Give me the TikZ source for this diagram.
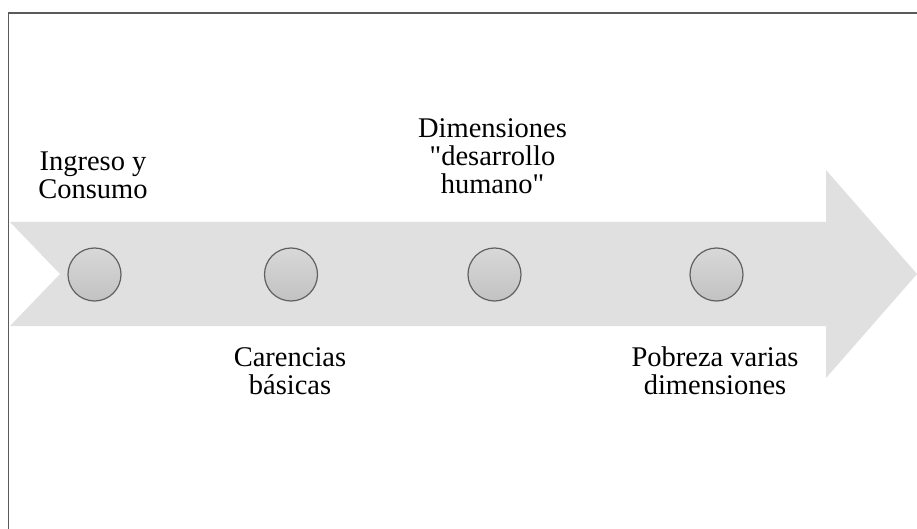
\documentclass[tikz,border=0pt]{standalone}
\usepackage{fontspec}
\setmainfont{Liberation Serif}[Ligatures=TeXOff]
\definecolor{framegray}{HTML}{5A5A5A}
\definecolor{arrowgray}{HTML}{E0E0E0}
\definecolor{dotedge}{HTML}{606060}
\definecolor{dottop}{HTML}{D8D8D8}
\definecolor{dotbottom}{HTML}{C2C2C2}
\tikzset{
  milestone/.style={circle, minimum size=53pt, inner sep=0pt, draw=dotedge,
    line width=1.2pt, top color=dottop, bottom color=dotbottom},
  stagelabel/.style={align=center, inner sep=0pt, anchor=base,
    font=\fontsize{28.5}{28}\selectfont, text=black}
}
\begin{document}
\begin{tikzpicture}[x=1pt, y=-1pt]
  \useasboundingbox (0,0) rectangle (917,529);
  % frame (only top and left edges fall inside the page)
  \draw[framegray, line width=1.5pt] (8.5,529) -- (8.5,13) -- (917,13);
  % timeline arrow
  \fill[arrowgray] (10,222) -- (826,222) -- (826,170) -- (917,274)
    -- (826,378) -- (826,326) -- (10,326) -- (60,274) -- cycle;
  % milestones
  \node[milestone] (c1) at (94.5,274.5) {};
  \node[milestone] (c2) at (291,274.5) {};
  \node[milestone] (c3) at (494.5,274.5) {};
  \node[milestone] (c4) at (716.5,274.5) {};
  % labels (base anchor sits on the last line)
  \node[stagelabel] (l1) at (93,199) {Ingreso y\\Consumo};
  \node[stagelabel] (l2) at (290,394.5) {Carencias\\básicas};
  \node[stagelabel] (l3) at (492.5,194) {Dimensiones\\"desarrollo\\humano"};
  \node[stagelabel] (l4) at (715,394) {Pobreza varias\\dimensiones};
\end{tikzpicture}
\end{document}
